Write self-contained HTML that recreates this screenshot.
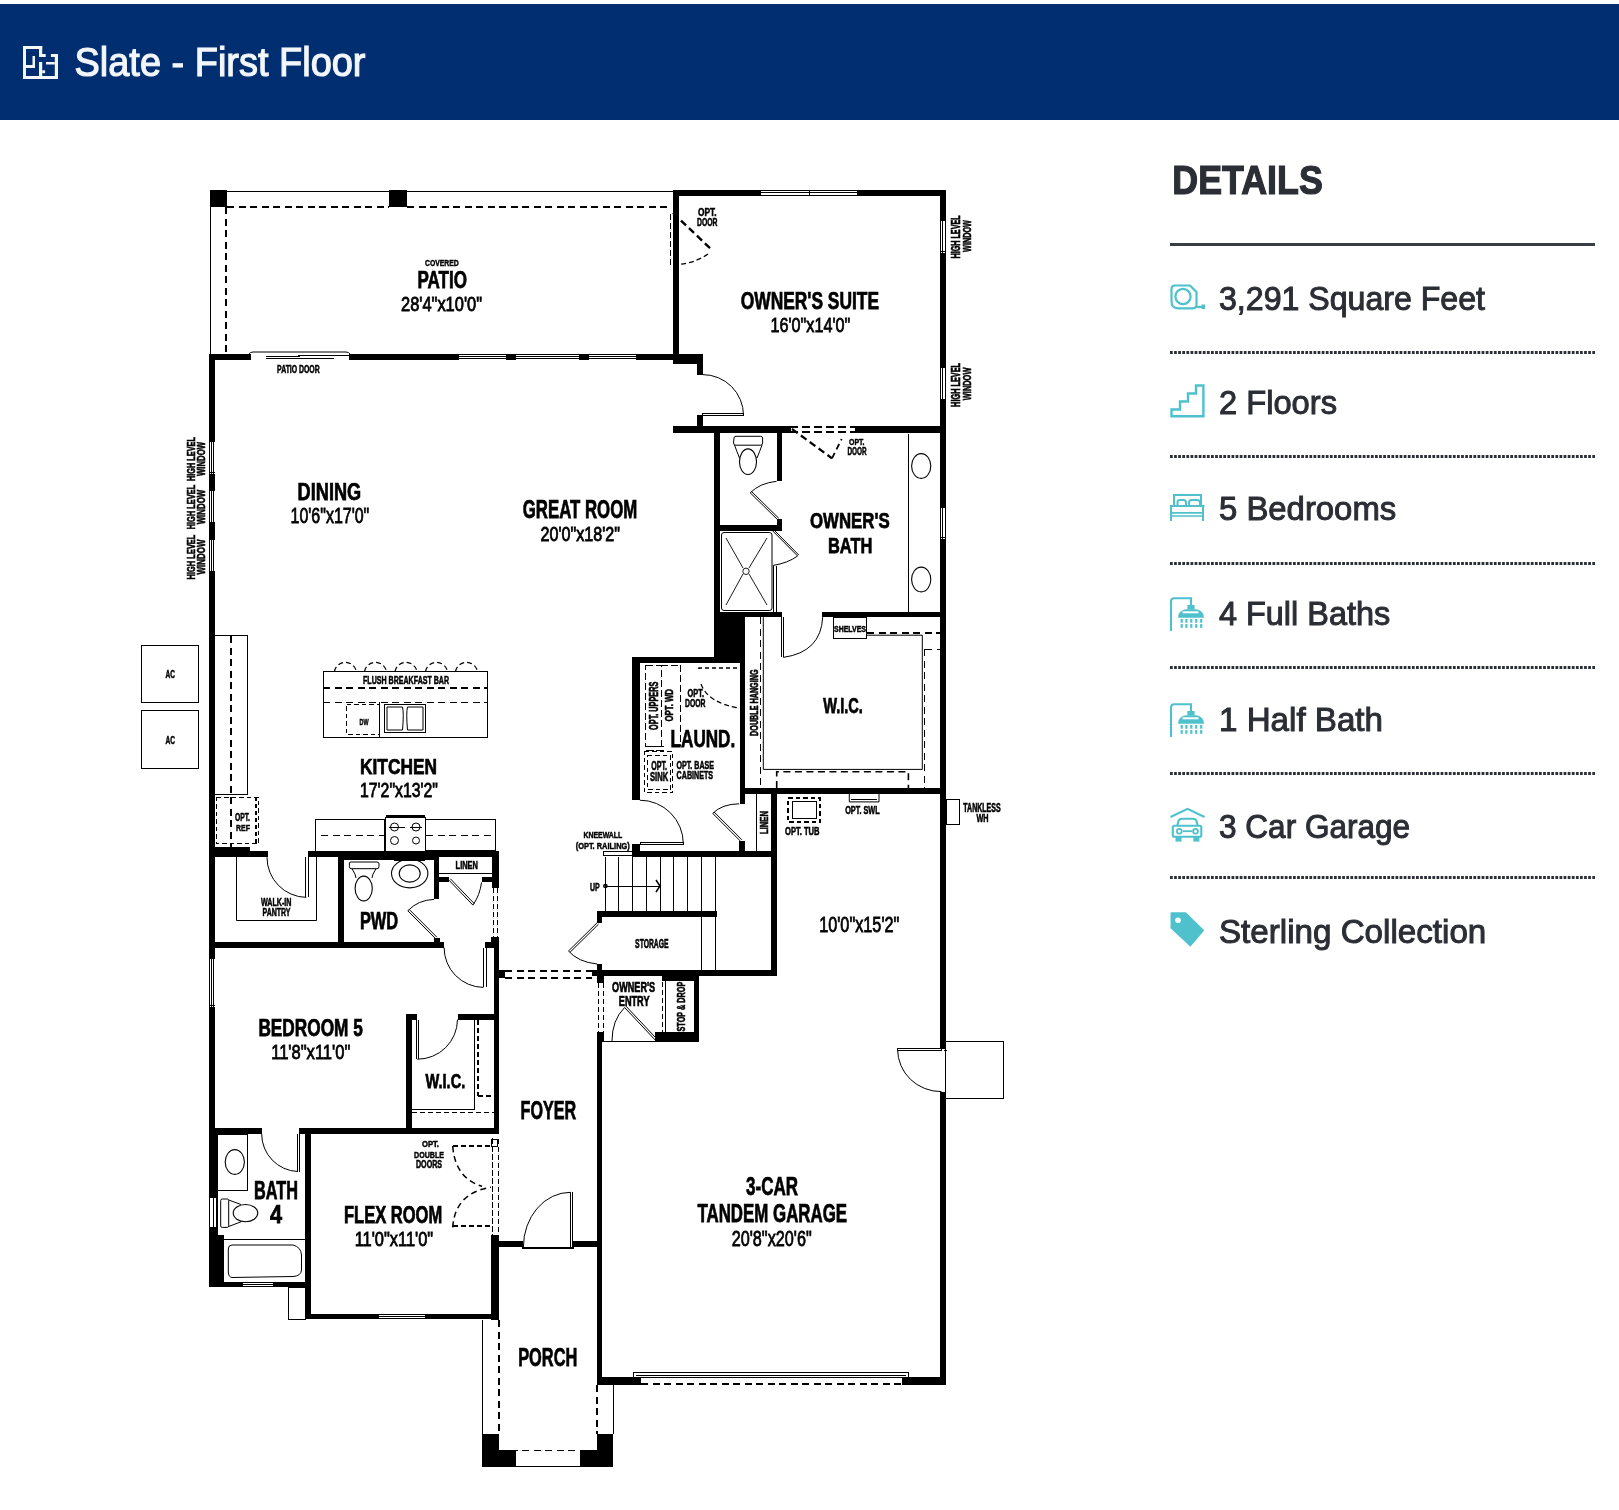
<!DOCTYPE html>
<html><head><meta charset="utf-8"><style>
html,body{margin:0;padding:0;background:#fff;}
body{width:1619px;height:1510px;position:relative;overflow:hidden;font-family:"Liberation Sans",sans-serif;}
.bar{position:absolute;left:0;top:4px;width:1619px;height:116px;background:#012e71;}
svg text{font-family:"Liberation Sans",sans-serif;fill:#000;}
.abs{position:absolute;left:0;top:0;will-change:transform;}
</style></head><body>
<div class="bar"></div>
<svg class="abs" width="1619" height="1510" viewBox="0 0 1619 1510">
<g fill="#f3f6fa"><rect x="23" y="46" width="3.0" height="33.0"/><rect x="23" y="46" width="19.2" height="3.0"/><rect x="39" y="46" width="3.2" height="11.0"/><rect x="39" y="54" width="6.7" height="3.0"/><rect x="50.9" y="54" width="7.1" height="3.0"/><rect x="54.8" y="54" width="3.2" height="25.0"/><rect x="23" y="76" width="35.0" height="3.0"/><rect x="26" y="65" width="9.0" height="3.0"/><rect x="32.5" y="56" width="2.5" height="12.0"/><rect x="39" y="62" width="3.2" height="17.0"/><rect x="46" y="62" width="8.8" height="2.5"/><rect x="42.2" y="70.3" width="2.9" height="2.9"/></g>
<text x="74.5" y="76" font-size="40.5" style="fill:#f3f6fa" stroke="#f3f6fa" stroke-width="1.2" textLength="291" lengthAdjust="spacingAndGlyphs">Slate - First Floor</text>
<text x="1172.3" y="194.2" font-size="41" font-weight="700" style="fill:#2b2e34" stroke="#2b2e34" stroke-width="1.2" textLength="150.5" lengthAdjust="spacingAndGlyphs">DETAILS</text>
<rect x="1170" y="243" width="425" height="3" fill="#3a3d44"/>
<text x="1219" y="309.5" font-size="33.3" style="fill:#2b2e34" stroke="#2b2e34" stroke-width="1.0" textLength="266" lengthAdjust="spacingAndGlyphs">3,291 Square Feet</text>
<text x="1219" y="413.8" font-size="33.3" style="fill:#2b2e34" stroke="#2b2e34" stroke-width="1.0" textLength="118" lengthAdjust="spacingAndGlyphs">2 Floors</text>
<text x="1219" y="520.3" font-size="33.3" style="fill:#2b2e34" stroke="#2b2e34" stroke-width="1.0" textLength="177.2" lengthAdjust="spacingAndGlyphs">5 Bedrooms</text>
<text x="1219" y="624.5" font-size="33.3" style="fill:#2b2e34" stroke="#2b2e34" stroke-width="1.0" textLength="171.2" lengthAdjust="spacingAndGlyphs">4 Full Baths</text>
<text x="1219" y="731" font-size="33.3" style="fill:#2b2e34" stroke="#2b2e34" stroke-width="1.0" textLength="164" lengthAdjust="spacingAndGlyphs">1 Half Bath</text>
<text x="1219" y="837.7" font-size="33.3" style="fill:#2b2e34" stroke="#2b2e34" stroke-width="1.0" textLength="191.1" lengthAdjust="spacingAndGlyphs">3 Car Garage</text>
<text x="1219" y="942.5" font-size="33.3" style="fill:#2b2e34" stroke="#2b2e34" stroke-width="1.0" textLength="267.3" lengthAdjust="spacingAndGlyphs">Sterling Collection</text>
<line x1="1170" y1="352.5" x2="1595" y2="352.5" stroke="#2c2f35" stroke-width="3" stroke-dasharray="2.75,1.35"/>
<line x1="1170" y1="456.5" x2="1595" y2="456.5" stroke="#2c2f35" stroke-width="3" stroke-dasharray="2.75,1.35"/>
<line x1="1170" y1="563.5" x2="1595" y2="563.5" stroke="#2c2f35" stroke-width="3" stroke-dasharray="2.75,1.35"/>
<line x1="1170" y1="667.5" x2="1595" y2="667.5" stroke="#2c2f35" stroke-width="3" stroke-dasharray="2.75,1.35"/>
<line x1="1170" y1="773.5" x2="1595" y2="773.5" stroke="#2c2f35" stroke-width="3" stroke-dasharray="2.75,1.35"/>
<line x1="1170" y1="877.5" x2="1595" y2="877.5" stroke="#2c2f35" stroke-width="3" stroke-dasharray="2.75,1.35"/>
<g fill="none" stroke="#4ec1cd" stroke-width="2.2">
<path d="M1175,285.5 L1190,285.5 L1196.5,292 L1196.5,304.5 Q1196.5,308.3 1192.7,308.3 L1178,308.3 Q1171.5,308.3 1171.5,301 L1171.5,289 Q1171.5,285.5 1175,285.5 Z"/>
<circle cx="1183" cy="296.5" r="7.6"/>
<path d="M1196.5,307 L1203,307"/>
</g><rect x="1201.5" y="304.5" width="3.5" height="4.5" fill="#4ec1cd"/>
<path d="M1171.5,416.2 L1171.5,409.5 L1180,409.5 L1180,401.5 L1188,401.5 L1188,393.5 L1196,393.5 L1196,385.5 L1203.4,385.5 L1203.4,416.2 Z" fill="none" stroke="#4ec1cd" stroke-width="2.4"/>
<g fill="none" stroke="#4ec1cd" stroke-width="2">
<path d="M1174,505.5 L1174,495 L1201,495 L1201,505.5"/>
<path d="M1177.5,505.5 L1177.5,502 Q1177.5,500 1180,500 L1183.5,500 Q1186,500 1186,502.5 L1186,505.5"/>
<path d="M1189,505.5 L1189,502.5 Q1189,500 1191.5,500 L1197,500 Q1200,500 1200,503 L1200,505.5"/>
<path d="M1170,506 L1204.5,506"/>
<path d="M1171,505 L1171,521 M1203,505 L1203,521"/>
<path d="M1171,512.8 L1203,512.8 M1171,516 L1203,516" stroke-width="1.7"/>
</g>
<g fill="#4ec1cd">
<path d="M1171,631.0 L1171,601.5 Q1171,598.2 1174.3,598.2 L1191,598.2 L1191,605.5" fill="none" stroke="#4ec1cd" stroke-width="2.1"/>
<rect x="1187.4" y="605.0" width="7.2" height="4.5"/>
<path d="M1178,617.7 L1178.6,614.5 Q1181,609.5 1186,609.3 L1196,609.3 Q1201,609.5 1203.4,614.5 L1204,617.7 Z"/>
<rect x="1182.5" y="611.3" width="16" height="2" fill="#fff"/>
<rect x="1180.6" y="619.0" width="2.2" height="3.7"/><rect x="1180.6" y="624.1" width="2.2" height="3.7"/><rect x="1185.3" y="619.0" width="2.2" height="3.7"/><rect x="1185.3" y="624.1" width="2.2" height="3.7"/><rect x="1190.2" y="619.0" width="2.2" height="3.7"/><rect x="1190.2" y="624.1" width="2.2" height="3.7"/><rect x="1195.1" y="619.0" width="2.2" height="3.7"/><rect x="1195.1" y="624.1" width="2.2" height="3.7"/><rect x="1200.1" y="619.0" width="2.2" height="3.7"/><rect x="1200.1" y="624.1" width="2.2" height="3.7"/>
</g>
<g fill="#4ec1cd">
<path d="M1171,737.0 L1171,707.5 Q1171,704.2 1174.3,704.2 L1191,704.2 L1191,711.5" fill="none" stroke="#4ec1cd" stroke-width="2.1"/>
<rect x="1187.4" y="711.0" width="7.2" height="4.5"/>
<path d="M1178,723.7 L1178.6,720.5 Q1181,715.5 1186,715.3 L1196,715.3 Q1201,715.5 1203.4,720.5 L1204,723.7 Z"/>
<rect x="1182.5" y="717.3" width="16" height="2" fill="#fff"/>
<rect x="1180.6" y="725.0" width="2.2" height="3.7"/><rect x="1180.6" y="730.1" width="2.2" height="3.7"/><rect x="1185.3" y="725.0" width="2.2" height="3.7"/><rect x="1185.3" y="730.1" width="2.2" height="3.7"/><rect x="1190.2" y="725.0" width="2.2" height="3.7"/><rect x="1190.2" y="730.1" width="2.2" height="3.7"/><rect x="1195.1" y="725.0" width="2.2" height="3.7"/><rect x="1195.1" y="730.1" width="2.2" height="3.7"/><rect x="1200.1" y="725.0" width="2.2" height="3.7"/><rect x="1200.1" y="730.1" width="2.2" height="3.7"/>
</g>
<g fill="none" stroke="#4ec1cd" stroke-width="2.1">
<path d="M1170.5,817 L1187.5,808.8 L1204.5,817"/>
<path d="M1177.3,826 L1178.5,821 Q1179.3,818.7 1182,818.7 L1193,818.7 Q1195.7,818.7 1196.5,821 L1197.8,826"/>
<rect x="1172.8" y="825.8" width="28.5" height="11" rx="1.5"/>
<circle cx="1179.3" cy="831.3" r="2.4" stroke-width="1.8"/><circle cx="1195.5" cy="831.3" r="2.4" stroke-width="1.8"/>
<path d="M1183,831.2 L1192,831.2" stroke-width="1.8"/>
</g><rect x="1175.5" y="836" width="6" height="5.6" fill="#4ec1cd"/><rect x="1193.4" y="836" width="6" height="5.6" fill="#4ec1cd"/>
<path d="M1171.3,913.1 L1185.6,913.1 L1203.2,930.4 L1190.4,945.6 L1171.3,928 Z" fill="#4ec1cd" stroke="#4ec1cd" stroke-width="1.5" stroke-linejoin="round"/><circle cx="1178" cy="920.2" r="2.8" fill="#fff"/>
<g id="plan">
<line x1="210" y1="191.5" x2="673" y2="191.5" stroke="#000" stroke-width="1" shape-rendering="crispEdges"/>
<line x1="210.5" y1="190" x2="210.5" y2="354" stroke="#000" stroke-width="1" shape-rendering="crispEdges"/>
<rect x="210" y="190" width="17" height="17" fill="#000" shape-rendering="crispEdges"/>
<rect x="389" y="190" width="18" height="17" fill="#000" shape-rendering="crispEdges"/>
<line x1="227" y1="207.0" x2="389" y2="207.0" stroke="#000" stroke-width="2" stroke-dasharray="7,4.5" shape-rendering="crispEdges"/>
<line x1="407" y1="207.0" x2="671" y2="207.0" stroke="#000" stroke-width="2" stroke-dasharray="7,4.5" shape-rendering="crispEdges"/>
<line x1="226.0" y1="207" x2="226.0" y2="354" stroke="#000" stroke-width="2" stroke-dasharray="7,4.5" shape-rendering="crispEdges"/>
<text x="425.0" y="266.0" font-size="9.16" font-weight="700" textLength="33.7" lengthAdjust="spacingAndGlyphs" stroke="#000" stroke-width="0.46">COVERED</text>
<text x="417.5" y="288.4" font-size="24.27" font-weight="700" textLength="49.5" lengthAdjust="spacingAndGlyphs" stroke="#000" stroke-width="0.75">PATIO</text>
<text x="401.0" y="310.6" font-size="20.20" font-weight="400" textLength="81.0" lengthAdjust="spacingAndGlyphs" stroke="#000" stroke-width="0.80">28'4"x10'0"</text>
<line x1="670.5" y1="214" x2="670.5" y2="265" stroke="#000" stroke-width="1" stroke-dasharray="6,3" shape-rendering="crispEdges"/>
<line x1="673.0" y1="213.0" x2="712.0" y2="250.0" stroke="#000" stroke-width="2.4" stroke-dasharray="7,4"/>
<path d="M708,254 Q695,263 678.6,264.5" fill="none" stroke="#000" stroke-width="1.3" stroke-dasharray="5,3"/>
<text x="698.0" y="216.0" font-size="10.61" font-weight="700" textLength="18.5" lengthAdjust="spacingAndGlyphs" stroke="#000" stroke-width="0.53">OPT.</text>
<text x="697.0" y="226.0" font-size="10.17" font-weight="700" textLength="20.5" lengthAdjust="spacingAndGlyphs" stroke="#000" stroke-width="0.51">DOOR</text>
<rect x="210" y="354" width="41" height="6" fill="#000" shape-rendering="crispEdges"/>
<rect x="251" y="354" width="98" height="6" fill="#fff" shape-rendering="crispEdges"/>
<path d="M249,359 L249,354 Q250,352 253,352 L346,352 Q349,352 350,354 L350,359" fill="none" stroke="#000" stroke-width="1"/>
<line x1="266" y1="358.5" x2="334" y2="358.5" stroke="#000" stroke-width="1" shape-rendering="crispEdges"/>
<line x1="266" y1="356.5" x2="300" y2="356.5" stroke="#000" stroke-width="1" shape-rendering="crispEdges"/>
<line x1="298" y1="355.5" x2="349" y2="355.5" stroke="#000" stroke-width="1" shape-rendering="crispEdges"/>
<rect x="349" y="354" width="110" height="6" fill="#000" shape-rendering="crispEdges"/>
<rect x="459" y="354" width="48" height="6" fill="#fff" shape-rendering="crispEdges"/>
<line x1="459" y1="354.5" x2="507" y2="354.5" stroke="#000" stroke-width="1" shape-rendering="crispEdges"/>
<line x1="459" y1="358.5" x2="507" y2="358.5" stroke="#000" stroke-width="1" shape-rendering="crispEdges"/>
<line x1="459" y1="356.5" x2="507" y2="356.5" stroke="#000" stroke-width="1" shape-rendering="crispEdges"/>
<line x1="458.5" y1="354" x2="458.5" y2="360" stroke="#000" stroke-width="1" shape-rendering="crispEdges"/>
<line x1="506.5" y1="354" x2="506.5" y2="360" stroke="#000" stroke-width="1" shape-rendering="crispEdges"/>
<rect x="507" y="354" width="9" height="6" fill="#000" shape-rendering="crispEdges"/>
<rect x="516" y="354" width="64" height="6" fill="#fff" shape-rendering="crispEdges"/>
<line x1="516" y1="354.5" x2="580" y2="354.5" stroke="#000" stroke-width="1" shape-rendering="crispEdges"/>
<line x1="516" y1="358.5" x2="580" y2="358.5" stroke="#000" stroke-width="1" shape-rendering="crispEdges"/>
<line x1="516" y1="356.5" x2="580" y2="356.5" stroke="#000" stroke-width="1" shape-rendering="crispEdges"/>
<line x1="515.5" y1="354" x2="515.5" y2="360" stroke="#000" stroke-width="1" shape-rendering="crispEdges"/>
<line x1="579.5" y1="354" x2="579.5" y2="360" stroke="#000" stroke-width="1" shape-rendering="crispEdges"/>
<rect x="580" y="354" width="9" height="6" fill="#000" shape-rendering="crispEdges"/>
<rect x="589" y="354" width="48" height="6" fill="#fff" shape-rendering="crispEdges"/>
<line x1="589" y1="354.5" x2="637" y2="354.5" stroke="#000" stroke-width="1" shape-rendering="crispEdges"/>
<line x1="589" y1="358.5" x2="637" y2="358.5" stroke="#000" stroke-width="1" shape-rendering="crispEdges"/>
<line x1="589" y1="356.5" x2="637" y2="356.5" stroke="#000" stroke-width="1" shape-rendering="crispEdges"/>
<line x1="588.5" y1="354" x2="588.5" y2="360" stroke="#000" stroke-width="1" shape-rendering="crispEdges"/>
<line x1="636.5" y1="354" x2="636.5" y2="360" stroke="#000" stroke-width="1" shape-rendering="crispEdges"/>
<rect x="637" y="354" width="36" height="6" fill="#000" shape-rendering="crispEdges"/>
<rect x="673" y="354" width="30" height="10" fill="#000" shape-rendering="crispEdges"/>
<rect x="697" y="354" width="6" height="21" fill="#000" shape-rendering="crispEdges"/>
<text x="277.1" y="372.7" font-size="10.76" font-weight="700" textLength="42.6" lengthAdjust="spacingAndGlyphs" stroke="#000" stroke-width="0.54">PATIO DOOR</text>
<rect x="697" y="415" width="6" height="17" fill="#000" shape-rendering="crispEdges"/>
<path d="M702.7,374.6 A40.8,40.8 0 0 1 743.5,415.3" fill="none" stroke="#000" stroke-width="1"/>
<rect x="702.5" y="413.5" width="41.0" height="2.0" fill="none" stroke="#000" stroke-width="1" shape-rendering="crispEdges"/>
<rect x="673" y="190" width="273" height="6" fill="#000" shape-rendering="crispEdges"/>
<rect x="761" y="190" width="97" height="6" fill="#fff" shape-rendering="crispEdges"/>
<line x1="761" y1="190.5" x2="858" y2="190.5" stroke="#000" stroke-width="1" shape-rendering="crispEdges"/>
<line x1="761" y1="195.5" x2="858" y2="195.5" stroke="#000" stroke-width="1" shape-rendering="crispEdges"/>
<line x1="761" y1="192.5" x2="858" y2="192.5" stroke="#000" stroke-width="1" shape-rendering="crispEdges"/>
<line x1="760.5" y1="190" x2="760.5" y2="196" stroke="#000" stroke-width="1" shape-rendering="crispEdges"/>
<line x1="857.5" y1="190" x2="857.5" y2="196" stroke="#000" stroke-width="1" shape-rendering="crispEdges"/>
<line x1="809.5" y1="190" x2="809.5" y2="196" stroke="#000" stroke-width="1" shape-rendering="crispEdges"/>
<rect x="673" y="190" width="6" height="164" fill="#000" shape-rendering="crispEdges"/>
<rect x="940" y="190" width="6" height="1195" fill="#000" shape-rendering="crispEdges"/>
<rect x="940" y="221" width="6" height="32" fill="#fff" shape-rendering="crispEdges"/>
<line x1="940.5" y1="221" x2="940.5" y2="253" stroke="#000" stroke-width="1" shape-rendering="crispEdges"/>
<line x1="945.5" y1="221" x2="945.5" y2="253" stroke="#000" stroke-width="1" shape-rendering="crispEdges"/>
<line x1="942.5" y1="221" x2="942.5" y2="253" stroke="#000" stroke-width="1" shape-rendering="crispEdges"/>
<line x1="940" y1="220.5" x2="946" y2="220.5" stroke="#000" stroke-width="1" shape-rendering="crispEdges"/>
<line x1="940" y1="251.5" x2="946" y2="251.5" stroke="#000" stroke-width="1" shape-rendering="crispEdges"/>
<rect x="940" y="368" width="6" height="32" fill="#fff" shape-rendering="crispEdges"/>
<line x1="940.5" y1="368" x2="940.5" y2="400" stroke="#000" stroke-width="1" shape-rendering="crispEdges"/>
<line x1="945.5" y1="368" x2="945.5" y2="400" stroke="#000" stroke-width="1" shape-rendering="crispEdges"/>
<line x1="942.5" y1="368" x2="942.5" y2="400" stroke="#000" stroke-width="1" shape-rendering="crispEdges"/>
<line x1="940" y1="367.5" x2="946" y2="367.5" stroke="#000" stroke-width="1" shape-rendering="crispEdges"/>
<line x1="940" y1="399.5" x2="946" y2="399.5" stroke="#000" stroke-width="1" shape-rendering="crispEdges"/>
<text transform="translate(960.4,258.5) rotate(-90)" x="0" y="0" font-size="12.50" font-weight="700" textLength="43.1" lengthAdjust="spacingAndGlyphs" stroke="#000" stroke-width="0.63">HIGH LEVEL</text>
<text transform="translate(971.0,252.0) rotate(-90)" x="0" y="0" font-size="11.19" font-weight="700" textLength="32.0" lengthAdjust="spacingAndGlyphs" stroke="#000" stroke-width="0.56">WINDOW</text>
<text transform="translate(960.4,406.9) rotate(-90)" x="0" y="0" font-size="12.50" font-weight="700" textLength="44.0" lengthAdjust="spacingAndGlyphs" stroke="#000" stroke-width="0.63">HIGH LEVEL</text>
<text transform="translate(971.0,400.2) rotate(-90)" x="0" y="0" font-size="11.19" font-weight="700" textLength="32.6" lengthAdjust="spacingAndGlyphs" stroke="#000" stroke-width="0.56">WINDOW</text>
<text x="740.8" y="308.7" font-size="24.27" font-weight="700" textLength="138.2" lengthAdjust="spacingAndGlyphs" stroke="#000" stroke-width="0.75">OWNER'S SUITE</text>
<text x="770.5" y="332.2" font-size="20.78" font-weight="400" textLength="79.8" lengthAdjust="spacingAndGlyphs" stroke="#000" stroke-width="0.80">16'0"x14'0"</text>
<rect x="673" y="426" width="117" height="7" fill="#000" shape-rendering="crispEdges"/>
<rect x="855" y="426" width="91" height="7" fill="#000" shape-rendering="crispEdges"/>
<line x1="790" y1="427.0" x2="855" y2="427.0" stroke="#000" stroke-width="2" stroke-dasharray="8,4" shape-rendering="crispEdges"/>
<line x1="790" y1="432.0" x2="855" y2="432.0" stroke="#000" stroke-width="2" stroke-dasharray="8,4" shape-rendering="crispEdges"/>
<line x1="790.5" y1="426" x2="790.5" y2="433" stroke="#000" stroke-width="1" shape-rendering="crispEdges"/>
<line x1="855.5" y1="426" x2="855.5" y2="433" stroke="#000" stroke-width="1" shape-rendering="crispEdges"/>
<line x1="792.0" y1="429.0" x2="832.0" y2="458.3" stroke="#000" stroke-width="2.2" stroke-dasharray="7,4"/>
<line x1="832.0" y1="458.3" x2="841.7" y2="439.0" stroke="#000" stroke-width="1.8" stroke-dasharray="6,4"/>
<text x="849.0" y="444.9" font-size="9.74" font-weight="700" textLength="15.5" lengthAdjust="spacingAndGlyphs" stroke="#000" stroke-width="0.49">OPT.</text>
<text x="847.4" y="454.8" font-size="10.17" font-weight="700" textLength="19.2" lengthAdjust="spacingAndGlyphs" stroke="#000" stroke-width="0.51">DOOR</text>
<rect x="714" y="426" width="6" height="237" fill="#000" shape-rendering="crispEdges"/>
<rect x="209" y="354" width="6" height="780" fill="#000" shape-rendering="crispEdges"/>
<rect x="209" y="442" width="6" height="32" fill="#fff" shape-rendering="crispEdges"/>
<line x1="209.5" y1="442" x2="209.5" y2="474" stroke="#000" stroke-width="1" shape-rendering="crispEdges"/>
<line x1="213.5" y1="442" x2="213.5" y2="474" stroke="#000" stroke-width="1" shape-rendering="crispEdges"/>
<line x1="211.5" y1="442" x2="211.5" y2="474" stroke="#000" stroke-width="1" shape-rendering="crispEdges"/>
<line x1="209" y1="441.5" x2="215" y2="441.5" stroke="#000" stroke-width="1" shape-rendering="crispEdges"/>
<line x1="209" y1="472.5" x2="215" y2="472.5" stroke="#000" stroke-width="1" shape-rendering="crispEdges"/>
<rect x="209" y="491" width="6" height="32" fill="#fff" shape-rendering="crispEdges"/>
<line x1="209.5" y1="491" x2="209.5" y2="523" stroke="#000" stroke-width="1" shape-rendering="crispEdges"/>
<line x1="213.5" y1="491" x2="213.5" y2="523" stroke="#000" stroke-width="1" shape-rendering="crispEdges"/>
<line x1="211.5" y1="491" x2="211.5" y2="523" stroke="#000" stroke-width="1" shape-rendering="crispEdges"/>
<line x1="209" y1="490.5" x2="215" y2="490.5" stroke="#000" stroke-width="1" shape-rendering="crispEdges"/>
<line x1="209" y1="522.5" x2="215" y2="522.5" stroke="#000" stroke-width="1" shape-rendering="crispEdges"/>
<rect x="209" y="540" width="6" height="32" fill="#fff" shape-rendering="crispEdges"/>
<line x1="209.5" y1="540" x2="209.5" y2="572" stroke="#000" stroke-width="1" shape-rendering="crispEdges"/>
<line x1="213.5" y1="540" x2="213.5" y2="572" stroke="#000" stroke-width="1" shape-rendering="crispEdges"/>
<line x1="211.5" y1="540" x2="211.5" y2="572" stroke="#000" stroke-width="1" shape-rendering="crispEdges"/>
<line x1="209" y1="539.5" x2="215" y2="539.5" stroke="#000" stroke-width="1" shape-rendering="crispEdges"/>
<line x1="209" y1="571.5" x2="215" y2="571.5" stroke="#000" stroke-width="1" shape-rendering="crispEdges"/>
<text transform="translate(194.6,481.0) rotate(-90)" x="0" y="0" font-size="11.05" font-weight="700" textLength="44.0" lengthAdjust="spacingAndGlyphs" stroke="#000" stroke-width="0.55">HIGH LEVEL</text>
<text transform="translate(205.4,476.0) rotate(-90)" x="0" y="0" font-size="11.77" font-weight="700" textLength="34.0" lengthAdjust="spacingAndGlyphs" stroke="#000" stroke-width="0.59">WINDOW</text>
<text transform="translate(194.6,529.3) rotate(-90)" x="0" y="0" font-size="11.05" font-weight="700" textLength="44.5" lengthAdjust="spacingAndGlyphs" stroke="#000" stroke-width="0.55">HIGH LEVEL</text>
<text transform="translate(205.4,524.3) rotate(-90)" x="0" y="0" font-size="11.77" font-weight="700" textLength="34.5" lengthAdjust="spacingAndGlyphs" stroke="#000" stroke-width="0.59">WINDOW</text>
<text transform="translate(194.6,579.4) rotate(-90)" x="0" y="0" font-size="11.05" font-weight="700" textLength="44.8" lengthAdjust="spacingAndGlyphs" stroke="#000" stroke-width="0.55">HIGH LEVEL</text>
<text transform="translate(205.4,574.4) rotate(-90)" x="0" y="0" font-size="11.77" font-weight="700" textLength="34.8" lengthAdjust="spacingAndGlyphs" stroke="#000" stroke-width="0.59">WINDOW</text>
<text x="297.6" y="499.7" font-size="24.71" font-weight="700" textLength="63.6" lengthAdjust="spacingAndGlyphs" stroke="#000" stroke-width="0.75">DINING</text>
<text x="290.5" y="523.0" font-size="22.09" font-weight="400" textLength="78.8" lengthAdjust="spacingAndGlyphs" stroke="#000" stroke-width="0.80">10'6"x17'0"</text>
<text x="522.8" y="517.8" font-size="25.00" font-weight="700" textLength="114.4" lengthAdjust="spacingAndGlyphs" stroke="#000" stroke-width="0.75">GREAT ROOM</text>
<text x="540.4" y="540.8" font-size="19.91" font-weight="400" textLength="79.7" lengthAdjust="spacingAndGlyphs" stroke="#000" stroke-width="0.80">20'0"x18'2"</text>
<rect x="777" y="433" width="5" height="48" fill="#000" shape-rendering="crispEdges"/>
<path d="M776.6,481.3 Q760,483 750.2,492.8" fill="none" stroke="#000" stroke-width="1"/>
<line x1="750.2" y1="492.8" x2="777.5" y2="519.6" stroke="#000" stroke-width="1"/>
<line x1="751.5" y1="491.5" x2="778.8" y2="518.3" stroke="#000" stroke-width="1"/>
<rect x="777" y="519" width="5" height="12" fill="#000" shape-rendering="crispEdges"/>
<rect x="720" y="525" width="62" height="6" fill="#000" shape-rendering="crispEdges"/>
<path d="M734,438 Q734,436.3 736,436.3 L760.5,436.3 Q762.6,436.3 762.6,438 L762.6,443 Q762.6,445.2 760.5,445.2 L736,445.2 Q733.5,445.2 733.5,443 Z" fill="none" stroke="#000" stroke-width="1"/>
<path d="M734.5,445 Q737,452 739.5,458 M762,445 Q759.5,452 757,458" fill="none" stroke="#000" stroke-width="1"/>
<ellipse cx="748.0" cy="461.7" rx="8.5" ry="12.8" fill="none" stroke="#000" stroke-width="1.1"/>
<rect x="721.5" y="532.5" width="50.5" height="78.0" fill="none" stroke="#000" stroke-width="1" rx="2.5"/>
<line x1="726.0" y1="538.0" x2="743.0" y2="568.0" stroke="#000" stroke-width="0.9"/>
<line x1="767.0" y1="538.0" x2="749.0" y2="568.0" stroke="#000" stroke-width="0.9"/>
<line x1="726.0" y1="605.0" x2="743.0" y2="574.0" stroke="#000" stroke-width="0.9"/>
<line x1="767.0" y1="605.0" x2="749.0" y2="574.0" stroke="#000" stroke-width="0.9"/>
<ellipse cx="746.0" cy="571.3" rx="3.2" ry="3.2" fill="none" stroke="#000" stroke-width="0.9"/>
<line x1="772.8" y1="531.0" x2="797.6" y2="556.0" stroke="#000" stroke-width="1"/>
<line x1="774.0" y1="530.0" x2="798.8" y2="555.0" stroke="#000" stroke-width="1"/>
<path d="M797.6,556 Q788,563 772.8,565.5" fill="none" stroke="#000" stroke-width="1"/>
<line x1="773.5" y1="566" x2="773.5" y2="612" stroke="#000" stroke-width="1" shape-rendering="crispEdges"/>
<line x1="776.5" y1="566" x2="776.5" y2="612" stroke="#000" stroke-width="1" shape-rendering="crispEdges"/>
<rect x="714" y="612" width="68" height="5" fill="#000" shape-rendering="crispEdges"/>
<rect x="714" y="612" width="31" height="50" fill="#000" shape-rendering="crispEdges"/>
<rect x="822" y="612" width="124" height="5" fill="#000" shape-rendering="crispEdges"/>
<line x1="908.5" y1="434" x2="908.5" y2="612" stroke="#000" stroke-width="1" shape-rendering="crispEdges"/>
<ellipse cx="921.2" cy="466.0" rx="9.6" ry="12.4" fill="none" stroke="#000" stroke-width="1.1"/>
<ellipse cx="921.2" cy="579.5" rx="9.6" ry="12.4" fill="none" stroke="#000" stroke-width="1.1"/>
<rect x="940" y="507" width="6" height="32" fill="#fff" shape-rendering="crispEdges"/>
<line x1="940.5" y1="507" x2="940.5" y2="539" stroke="#000" stroke-width="1" shape-rendering="crispEdges"/>
<line x1="945.5" y1="507" x2="945.5" y2="539" stroke="#000" stroke-width="1" shape-rendering="crispEdges"/>
<line x1="942.5" y1="507" x2="942.5" y2="539" stroke="#000" stroke-width="1" shape-rendering="crispEdges"/>
<line x1="940" y1="507.5" x2="946" y2="507.5" stroke="#000" stroke-width="1" shape-rendering="crispEdges"/>
<line x1="940" y1="537.5" x2="946" y2="537.5" stroke="#000" stroke-width="1" shape-rendering="crispEdges"/>
<text x="810.0" y="528.2" font-size="22.24" font-weight="700" textLength="79.6" lengthAdjust="spacingAndGlyphs" stroke="#000" stroke-width="0.75">OWNER'S</text>
<text x="827.9" y="552.5" font-size="22.82" font-weight="700" textLength="44.4" lengthAdjust="spacingAndGlyphs" stroke="#000" stroke-width="0.75">BATH</text>
<line x1="781.5" y1="617" x2="781.5" y2="657" stroke="#000" stroke-width="1" shape-rendering="crispEdges"/>
<line x1="783.5" y1="617" x2="783.5" y2="657" stroke="#000" stroke-width="1" shape-rendering="crispEdges"/>
<path d="M822.7,617.2 Q821,652 783.3,657.4" fill="none" stroke="#000" stroke-width="1"/>
<rect x="740" y="788" width="206" height="6" fill="#000" shape-rendering="crispEdges"/>
<rect x="740" y="657" width="5" height="147" fill="#000" shape-rendering="crispEdges"/>
<rect x="833.5" y="617.5" width="33.0" height="21.0" fill="none" stroke="#000" stroke-width="1" shape-rendering="crispEdges"/>
<text x="834.0" y="631.6" font-size="9.59" font-weight="700" textLength="32.0" lengthAdjust="spacingAndGlyphs" stroke="#000" stroke-width="0.48">SHELVES</text>
<line x1="867" y1="633.0" x2="941" y2="633.0" stroke="#000" stroke-width="2" stroke-dasharray="7,4.5" shape-rendering="crispEdges"/>
<path d="M866.7,635.2 L922.3,635.2 L922.3,769.4 L763.3,769.4 L763.3,617.2" fill="none" stroke="#000" stroke-width="1"/>
<line x1="760.5" y1="617" x2="760.5" y2="788" stroke="#000" stroke-width="1" stroke-dasharray="7,4.5" shape-rendering="crispEdges"/>
<line x1="924.5" y1="649" x2="924.5" y2="788" stroke="#000" stroke-width="1" stroke-dasharray="7,4.5" shape-rendering="crispEdges"/>
<line x1="925" y1="649.5" x2="941" y2="649.5" stroke="#000" stroke-width="1" stroke-dasharray="7,4.5" shape-rendering="crispEdges"/>
<path d="M776.7,788 L776.7,771.7 L908.4,771.7 L908.4,788" fill="none" stroke="#000" stroke-width="1.6" stroke-dasharray="7,4.5"/>
<text x="823.2" y="712.7" font-size="21.37" font-weight="700" textLength="39.7" lengthAdjust="spacingAndGlyphs" stroke="#000" stroke-width="0.75">W.I.C.</text>
<text transform="translate(758.2,735.9) rotate(-90)" x="0" y="0" font-size="11.19" font-weight="700" textLength="66.4" lengthAdjust="spacingAndGlyphs" stroke="#000" stroke-width="0.56">DOUBLE HANGING</text>
<rect x="632" y="657" width="113" height="6" fill="#000" shape-rendering="crispEdges"/>
<rect x="632" y="657" width="8" height="143" fill="#000" shape-rendering="crispEdges"/>
<path d="M639.8,800.2 A43.5,43.5 0 0 1 683.3,843.6" fill="none" stroke="#000" stroke-width="1"/>
<rect x="640.5" y="842.5" width="43.0" height="2.0" fill="none" stroke="#000" stroke-width="1" shape-rendering="crispEdges"/>
<rect x="632" y="844" width="8" height="8" fill="#000" shape-rendering="crispEdges"/>
<rect x="739" y="841" width="6" height="11" fill="#000" shape-rendering="crispEdges"/>
<path d="M739.2,803.8 Q722,804 712.7,813.4" fill="none" stroke="#000" stroke-width="1"/>
<line x1="712.7" y1="813.4" x2="740.5" y2="841.2" stroke="#000" stroke-width="1"/>
<line x1="714.1" y1="812.0" x2="741.9" y2="839.8" stroke="#000" stroke-width="1"/>
<line x1="756.5" y1="794" x2="756.5" y2="851" stroke="#000" stroke-width="1" shape-rendering="crispEdges"/>
<rect x="771" y="788" width="6" height="188" fill="#000" shape-rendering="crispEdges"/>
<text transform="translate(768.0,834.0) rotate(-90)" x="0" y="0" font-size="10.17" font-weight="700" textLength="23.0" lengthAdjust="spacingAndGlyphs" stroke="#000" stroke-width="0.51">LINEN</text>
<rect x="645.5" y="665.5" width="16.0" height="81.0" fill="none" stroke="#000" stroke-width="1" stroke-dasharray="7,3" shape-rendering="crispEdges"/>
<line x1="680.5" y1="665" x2="680.5" y2="746" stroke="#000" stroke-width="1" stroke-dasharray="7,3" shape-rendering="crispEdges"/>
<line x1="661" y1="665.5" x2="681" y2="665.5" stroke="#000" stroke-width="1" stroke-dasharray="7,3" shape-rendering="crispEdges"/>
<line x1="646" y1="746.5" x2="654" y2="746.5" stroke="#000" stroke-width="1" shape-rendering="crispEdges"/>
<line x1="646" y1="750.5" x2="654" y2="750.5" stroke="#000" stroke-width="1" shape-rendering="crispEdges"/>
<line x1="656" y1="746.5" x2="664" y2="746.5" stroke="#000" stroke-width="1" shape-rendering="crispEdges"/>
<line x1="656" y1="750.5" x2="664" y2="750.5" stroke="#000" stroke-width="1" shape-rendering="crispEdges"/>
<rect x="644.5" y="751.5" width="28.0" height="41.0" fill="none" stroke="#000" stroke-width="1" stroke-dasharray="4.5,3" shape-rendering="crispEdges"/>
<rect x="647.5" y="755.5" width="23.0" height="34.0" fill="none" stroke="#000" stroke-width="1" stroke-dasharray="4.5,3" shape-rendering="crispEdges"/>
<text transform="translate(657.6,729.9) rotate(-90)" x="0" y="0" font-size="12.21" font-weight="700" textLength="48.2" lengthAdjust="spacingAndGlyphs" stroke="#000" stroke-width="0.61">OPT. UPPERS</text>
<text transform="translate(673.3,721.5) rotate(-90)" x="0" y="0" font-size="10.61" font-weight="700" textLength="32.5" lengthAdjust="spacingAndGlyphs" stroke="#000" stroke-width="0.53">OPT. WD</text>
<path d="M699,669 L699,668 L739,668" fill="none" stroke="#000" stroke-width="1.6" stroke-dasharray="4,3"/>
<path d="M701,684 Q708,703 739,708" fill="none" stroke="#000" stroke-width="1.2" stroke-dasharray="5,3"/>
<text x="687.5" y="696.6" font-size="10.47" font-weight="700" textLength="16.5" lengthAdjust="spacingAndGlyphs" stroke="#000" stroke-width="0.52">OPT.</text>
<text x="685.0" y="707.0" font-size="11.63" font-weight="700" textLength="20.5" lengthAdjust="spacingAndGlyphs" stroke="#000" stroke-width="0.58">DOOR</text>
<text x="670.6" y="747.2" font-size="24.56" font-weight="700" textLength="64.6" lengthAdjust="spacingAndGlyphs" stroke="#000" stroke-width="0.75">LAUND.</text>
<text x="651.3" y="769.7" font-size="12.06" font-weight="700" textLength="15.7" lengthAdjust="spacingAndGlyphs" stroke="#000" stroke-width="0.60">OPT.</text>
<text x="650.0" y="780.8" font-size="12.06" font-weight="700" textLength="18.2" lengthAdjust="spacingAndGlyphs" stroke="#000" stroke-width="0.60">SINK</text>
<text x="676.6" y="768.9" font-size="10.47" font-weight="700" textLength="37.4" lengthAdjust="spacingAndGlyphs" stroke="#000" stroke-width="0.52">OPT. BASE</text>
<text x="676.6" y="779.2" font-size="11.48" font-weight="700" textLength="36.4" lengthAdjust="spacingAndGlyphs" stroke="#000" stroke-width="0.57">CABINETS</text>
<rect x="141.5" y="645.5" width="57.0" height="57.0" fill="none" stroke="#000" stroke-width="1" shape-rendering="crispEdges"/>
<rect x="141.5" y="710.5" width="57.0" height="58.0" fill="none" stroke="#000" stroke-width="1" shape-rendering="crispEdges"/>
<text x="165.5" y="677.5" font-size="10.17" font-weight="700" textLength="9.5" lengthAdjust="spacingAndGlyphs" stroke="#000" stroke-width="0.51">AC</text>
<text x="165.5" y="744.0" font-size="10.17" font-weight="700" textLength="9.5" lengthAdjust="spacingAndGlyphs" stroke="#000" stroke-width="0.51">AC</text>
<rect x="214.5" y="635.5" width="33.0" height="159.0" fill="none" stroke="#000" stroke-width="1" shape-rendering="crispEdges"/>
<line x1="231.0" y1="636" x2="231.0" y2="847" stroke="#000" stroke-width="2" stroke-dasharray="7,4.5" shape-rendering="crispEdges"/>
<rect x="216.5" y="797.5" width="42.0" height="46.0" fill="none" stroke="#000" stroke-width="1" stroke-dasharray="4.5,3" shape-rendering="crispEdges"/>
<line x1="256.0" y1="797" x2="256.0" y2="844" stroke="#000" stroke-width="2" stroke-dasharray="4,3" shape-rendering="crispEdges"/>
<text x="235.0" y="820.6" font-size="10.47" font-weight="700" textLength="15.0" lengthAdjust="spacingAndGlyphs" stroke="#000" stroke-width="0.52">OPT.</text>
<text x="236.0" y="831.0" font-size="9.88" font-weight="700" textLength="14.0" lengthAdjust="spacingAndGlyphs" stroke="#000" stroke-width="0.49">REF</text>
<rect x="209" y="847" width="41" height="10" fill="#000" shape-rendering="crispEdges"/>
<rect x="250" y="851" width="18" height="6" fill="#000" shape-rendering="crispEdges"/>
<rect x="308" y="851" width="191" height="6" fill="#000" shape-rendering="crispEdges"/>
<rect x="323.5" y="671.5" width="164.0" height="66.0" fill="none" stroke="#000" stroke-width="1" shape-rendering="crispEdges"/>
<line x1="323" y1="688.0" x2="488" y2="688.0" stroke="#000" stroke-width="2" stroke-dasharray="7,4.5" shape-rendering="crispEdges"/>
<line x1="323" y1="702.5" x2="488" y2="702.5" stroke="#000" stroke-width="1" stroke-dasharray="7,4.5" shape-rendering="crispEdges"/>
<rect x="346.5" y="704.5" width="33.0" height="30.0" fill="none" stroke="#000" stroke-width="1" stroke-dasharray="4.5,3" shape-rendering="crispEdges"/>
<line x1="379.5" y1="702" x2="379.5" y2="737" stroke="#000" stroke-width="1" shape-rendering="crispEdges"/>
<rect x="384.5" y="704.5" width="41.0" height="28.0" fill="none" stroke="#000" stroke-width="1" shape-rendering="crispEdges"/>
<path d="M387,707 L402.5,707 Q404,713 402.5,730 L387,730 Z" fill="none" stroke="#000" stroke-width="1"/>
<path d="M407.5,707 L423,707 L423,730 L407.5,730 Q406,713 407.5,707 Z" fill="none" stroke="#000" stroke-width="1"/>
<text x="363.0" y="683.6" font-size="10.47" font-weight="700" textLength="86.1" lengthAdjust="spacingAndGlyphs" stroke="#000" stroke-width="0.52">FLUSH BREAKFAST BAR</text>
<text x="359.5" y="725.3" font-size="9.59" font-weight="700" textLength="9.0" lengthAdjust="spacingAndGlyphs" stroke="#000" stroke-width="0.48">DW</text>
<path d="M334.4,671.5 A11.2,11.2 0 0 1 356.4,671.5" fill="none" stroke="#000" stroke-width="1.2" stroke-dasharray="5,3"/>
<path d="M364.5,671.5 A11.2,11.2 0 0 1 386.5,671.5" fill="none" stroke="#000" stroke-width="1.2" stroke-dasharray="5,3"/>
<path d="M395,671.5 A11.2,11.2 0 0 1 417,671.5" fill="none" stroke="#000" stroke-width="1.2" stroke-dasharray="5,3"/>
<path d="M425.5,671.5 A11.2,11.2 0 0 1 447.5,671.5" fill="none" stroke="#000" stroke-width="1.2" stroke-dasharray="5,3"/>
<path d="M455.5,671.5 A11.2,11.2 0 0 1 477.5,671.5" fill="none" stroke="#000" stroke-width="1.2" stroke-dasharray="5,3"/>
<text x="360.0" y="773.7" font-size="22.97" font-weight="700" textLength="77.0" lengthAdjust="spacingAndGlyphs" stroke="#000" stroke-width="0.75">KITCHEN</text>
<text x="360.0" y="797.0" font-size="20.35" font-weight="400" textLength="78.0" lengthAdjust="spacingAndGlyphs" stroke="#000" stroke-width="0.80">17'2"x13'2"</text>
<rect x="315.5" y="819.5" width="69.0" height="32.0" fill="none" stroke="#000" stroke-width="1" shape-rendering="crispEdges"/>
<line x1="321" y1="835.5" x2="384" y2="835.5" stroke="#000" stroke-width="1" stroke-dasharray="7,4.5" shape-rendering="crispEdges"/>
<rect x="385.5" y="817.5" width="40.0" height="34.0" fill="none" stroke="#000" stroke-width="1" shape-rendering="crispEdges"/>
<line x1="386" y1="816.0" x2="425" y2="816.0" stroke="#000" stroke-width="2" shape-rendering="crispEdges"/>
<ellipse cx="394.5" cy="827.0" rx="4.0" ry="4.0" fill="none" stroke="#000" stroke-width="1"/>
<ellipse cx="416.0" cy="827.0" rx="4.0" ry="4.0" fill="none" stroke="#000" stroke-width="1"/>
<ellipse cx="394.5" cy="840.5" rx="4.0" ry="4.0" fill="none" stroke="#000" stroke-width="1"/>
<ellipse cx="416.0" cy="840.5" rx="3.5" ry="3.5" fill="none" stroke="#000" stroke-width="1"/>
<line x1="389" y1="827.5" x2="405" y2="827.5" stroke="#000" stroke-width="1" shape-rendering="crispEdges"/>
<line x1="410" y1="827.5" x2="422" y2="827.5" stroke="#000" stroke-width="1" shape-rendering="crispEdges"/>
<rect x="425.5" y="819.5" width="70.0" height="31.0" fill="none" stroke="#000" stroke-width="1" shape-rendering="crispEdges"/>
<line x1="426" y1="835.5" x2="495" y2="835.5" stroke="#000" stroke-width="1" stroke-dasharray="7,4.5" shape-rendering="crispEdges"/>
<path d="M267,857.2 A40,40 0 0 0 306.3,897.4" fill="none" stroke="#000" stroke-width="1"/>
<line x1="305.5" y1="857" x2="305.5" y2="897" stroke="#000" stroke-width="1" shape-rendering="crispEdges"/>
<line x1="308.5" y1="857" x2="308.5" y2="897" stroke="#000" stroke-width="1" shape-rendering="crispEdges"/>
<path d="M236.5,857 L236.5,920.5 L316.5,920.5 L316.5,857" fill="none" stroke="#000" stroke-width="1"/>
<text x="260.9" y="906.0" font-size="11.05" font-weight="700" textLength="30.6" lengthAdjust="spacingAndGlyphs" stroke="#000" stroke-width="0.55">WALK-IN</text>
<text x="262.5" y="915.6" font-size="11.05" font-weight="700" textLength="28.0" lengthAdjust="spacingAndGlyphs" stroke="#000" stroke-width="0.55">PANTRY</text>
<rect x="338" y="857" width="6" height="91" fill="#000" shape-rendering="crispEdges"/>
<rect x="338" y="851" width="101" height="9" fill="#000" shape-rendering="crispEdges"/>
<rect x="209" y="942" width="235" height="6" fill="#000" shape-rendering="crispEdges"/>
<path d="M349.4,863 Q349.4,862 351,862 L377,862 Q379,862 379,864 L379,866.5 Q379,868.7 377,868.7 L351,868.7 Q349.4,868.7 349.4,866.5 Z" fill="none" stroke="#000" stroke-width="1"/>
<ellipse cx="363.7" cy="888.5" rx="8.6" ry="12.4" fill="none" stroke="#000" stroke-width="1.1"/>
<path d="M352,868.7 Q356,875 356,878" fill="none" stroke="#000" stroke-width="1"/>
<path d="M376,868.7 Q372,875 372,878" fill="none" stroke="#000" stroke-width="1"/>
<ellipse cx="409.7" cy="873.5" rx="18.2" ry="14.4" fill="none" stroke="#000" stroke-width="1.1"/>
<ellipse cx="409.7" cy="873.5" rx="10.5" ry="8.6" fill="none" stroke="#000" stroke-width="1.1"/>
<line x1="394" y1="860.5" x2="425" y2="860.5" stroke="#000" stroke-width="1" shape-rendering="crispEdges"/>
<text x="359.9" y="929.0" font-size="23.55" font-weight="700" textLength="38.3" lengthAdjust="spacingAndGlyphs" stroke="#000" stroke-width="0.75">PWD</text>
<rect x="434" y="857" width="5" height="42" fill="#000" shape-rendering="crispEdges"/>
<path d="M434,899.4 Q418,900 407.8,910.8" fill="none" stroke="#000" stroke-width="1"/>
<line x1="407.8" y1="910.8" x2="435.5" y2="938.6" stroke="#000" stroke-width="1"/>
<line x1="409.2" y1="909.4" x2="436.9" y2="937.2" stroke="#000" stroke-width="1"/>
<rect x="434" y="938" width="6" height="10" fill="#000" shape-rendering="crispEdges"/>
<line x1="439" y1="873.5" x2="494" y2="873.5" stroke="#000" stroke-width="1" shape-rendering="crispEdges"/>
<text x="455.6" y="868.7" font-size="11.19" font-weight="700" textLength="22.4" lengthAdjust="spacingAndGlyphs" stroke="#000" stroke-width="0.56">LINEN</text>
<rect x="439" y="877" width="10" height="5" fill="#000" shape-rendering="crispEdges"/>
<rect x="482" y="877" width="12" height="5" fill="#000" shape-rendering="crispEdges"/>
<line x1="449.0" y1="880.2" x2="472.9" y2="905.1" stroke="#000" stroke-width="1"/>
<line x1="450.4" y1="878.8" x2="474.3" y2="903.7" stroke="#000" stroke-width="1"/>
<path d="M472.9,905.1 Q480,895 481.5,882.5" fill="none" stroke="#000" stroke-width="1"/>
<rect x="492" y="851" width="7" height="37" fill="#000" shape-rendering="crispEdges"/>
<line x1="493.5" y1="888" x2="493.5" y2="937" stroke="#000" stroke-width="1" stroke-dasharray="5,3" shape-rendering="crispEdges"/>
<line x1="497.5" y1="888" x2="497.5" y2="937" stroke="#000" stroke-width="1" stroke-dasharray="5,3" shape-rendering="crispEdges"/>
<rect x="491" y="937" width="8" height="11" fill="#000" shape-rendering="crispEdges"/>
<rect x="485" y="942" width="14" height="6" fill="#000" shape-rendering="crispEdges"/>
<path d="M444.1,947.6 A39.8,39.8 0 0 0 483.4,987.4" fill="none" stroke="#000" stroke-width="1"/>
<line x1="483.5" y1="948" x2="483.5" y2="987" stroke="#000" stroke-width="1" shape-rendering="crispEdges"/>
<line x1="486.5" y1="948" x2="486.5" y2="987" stroke="#000" stroke-width="1" shape-rendering="crispEdges"/>
<rect x="494" y="948" width="5" height="186" fill="#000" shape-rendering="crispEdges"/>
<rect x="499" y="970" width="6" height="8" fill="#000" shape-rendering="crispEdges"/>
<line x1="505" y1="971.0" x2="592" y2="971.0" stroke="#000" stroke-width="2" stroke-dasharray="7,4.5" shape-rendering="crispEdges"/>
<line x1="505" y1="978.0" x2="592" y2="978.0" stroke="#000" stroke-width="2" stroke-dasharray="7,4.5" shape-rendering="crispEdges"/>
<rect x="209" y="959" width="6" height="48" fill="#fff" shape-rendering="crispEdges"/>
<line x1="209.5" y1="959" x2="209.5" y2="1007" stroke="#000" stroke-width="1" shape-rendering="crispEdges"/>
<line x1="213.5" y1="959" x2="213.5" y2="1007" stroke="#000" stroke-width="1" shape-rendering="crispEdges"/>
<line x1="211.5" y1="959" x2="211.5" y2="1007" stroke="#000" stroke-width="1" shape-rendering="crispEdges"/>
<line x1="209" y1="958.5" x2="215" y2="958.5" stroke="#000" stroke-width="1" shape-rendering="crispEdges"/>
<line x1="209" y1="1005.5" x2="215" y2="1005.5" stroke="#000" stroke-width="1" shape-rendering="crispEdges"/>
<text x="258.4" y="1036.3" font-size="23.69" font-weight="700" textLength="104.4" lengthAdjust="spacingAndGlyphs" stroke="#000" stroke-width="0.75">BEDROOM 5</text>
<text x="271.2" y="1059.2" font-size="20.78" font-weight="400" textLength="79.1" lengthAdjust="spacingAndGlyphs" stroke="#000" stroke-width="0.80">11'8"x11'0"</text>
<rect x="406" y="1014" width="11" height="6" fill="#000" shape-rendering="crispEdges"/>
<rect x="458" y="1014" width="36" height="6" fill="#000" shape-rendering="crispEdges"/>
<rect x="406" y="1014" width="6" height="120" fill="#000" shape-rendering="crispEdges"/>
<path d="M457.5,1019.6 A40,40 0 0 1 417.3,1059.2" fill="none" stroke="#000" stroke-width="1"/>
<line x1="416.5" y1="1020" x2="416.5" y2="1059" stroke="#000" stroke-width="1" shape-rendering="crispEdges"/>
<line x1="418.5" y1="1020" x2="418.5" y2="1059" stroke="#000" stroke-width="1" shape-rendering="crispEdges"/>
<line x1="474.5" y1="1020" x2="474.5" y2="1109" stroke="#000" stroke-width="1" shape-rendering="crispEdges"/>
<line x1="412" y1="1109.5" x2="475" y2="1109.5" stroke="#000" stroke-width="1" shape-rendering="crispEdges"/>
<line x1="478.0" y1="1020" x2="478.0" y2="1096" stroke="#000" stroke-width="2" stroke-dasharray="5,3" shape-rendering="crispEdges"/>
<line x1="478" y1="1096.0" x2="494" y2="1096.0" stroke="#000" stroke-width="2" stroke-dasharray="5,3" shape-rendering="crispEdges"/>
<line x1="412" y1="1112.5" x2="494" y2="1112.5" stroke="#000" stroke-width="1" stroke-dasharray="5,3" shape-rendering="crispEdges"/>
<text x="425.6" y="1088.0" font-size="20.93" font-weight="700" textLength="39.6" lengthAdjust="spacingAndGlyphs" stroke="#000" stroke-width="0.75">W.I.C.</text>
<rect x="209" y="1128" width="53" height="6" fill="#000" shape-rendering="crispEdges"/>
<rect x="299" y="1128" width="200" height="6" fill="#000" shape-rendering="crispEdges"/>
<rect x="209" y="1128" width="9" height="159" fill="#000" shape-rendering="crispEdges"/>
<rect x="210" y="1198" width="7" height="30" fill="#fff" shape-rendering="crispEdges"/>
<line x1="209.5" y1="1198" x2="209.5" y2="1228" stroke="#000" stroke-width="1" shape-rendering="crispEdges"/>
<line x1="216.5" y1="1198" x2="216.5" y2="1228" stroke="#000" stroke-width="1" shape-rendering="crispEdges"/>
<line x1="213.5" y1="1198" x2="213.5" y2="1228" stroke="#000" stroke-width="1" shape-rendering="crispEdges"/>
<line x1="210" y1="1197.5" x2="217" y2="1197.5" stroke="#000" stroke-width="1" shape-rendering="crispEdges"/>
<line x1="210" y1="1227.5" x2="217" y2="1227.5" stroke="#000" stroke-width="1" shape-rendering="crispEdges"/>
<rect x="209" y="1235" width="15" height="52" fill="#000" shape-rendering="crispEdges"/>
<rect x="209" y="1282" width="96" height="5" fill="#000" shape-rendering="crispEdges"/>
<rect x="242" y="1282" width="32" height="5" fill="#fff" shape-rendering="crispEdges"/>
<line x1="242" y1="1282.5" x2="274" y2="1282.5" stroke="#000" stroke-width="1" shape-rendering="crispEdges"/>
<line x1="242" y1="1286.5" x2="274" y2="1286.5" stroke="#000" stroke-width="1" shape-rendering="crispEdges"/>
<line x1="242" y1="1284.5" x2="274" y2="1284.5" stroke="#000" stroke-width="1" shape-rendering="crispEdges"/>
<line x1="242.5" y1="1282" x2="242.5" y2="1287" stroke="#000" stroke-width="1" shape-rendering="crispEdges"/>
<line x1="273.5" y1="1282" x2="273.5" y2="1287" stroke="#000" stroke-width="1" shape-rendering="crispEdges"/>
<rect x="305" y="1134" width="6" height="185" fill="#000" shape-rendering="crispEdges"/>
<rect x="288.5" y="1287.5" width="17.0" height="32.0" fill="none" stroke="#000" stroke-width="1" shape-rendering="crispEdges"/>
<path d="M261.7,1134 A37.5,37.5 0 0 0 297.7,1171.5" fill="none" stroke="#000" stroke-width="1"/>
<line x1="297.5" y1="1134" x2="297.5" y2="1172" stroke="#000" stroke-width="1" shape-rendering="crispEdges"/>
<line x1="299.5" y1="1134" x2="299.5" y2="1172" stroke="#000" stroke-width="1" shape-rendering="crispEdges"/>
<rect x="217.5" y="1134.5" width="30.0" height="56.0" fill="none" stroke="#000" stroke-width="1" shape-rendering="crispEdges"/>
<ellipse cx="234.8" cy="1162.0" rx="9.6" ry="12.4" fill="none" stroke="#000" stroke-width="1.1"/>
<rect x="220.7" y="1199.0" width="8.0" height="28.4" fill="none" stroke="#000" stroke-width="1" rx="1.5"/>
<path d="M228.7,1200 L241,1204.5 M228.7,1226.5 L241,1221.8" fill="none" stroke="#000" stroke-width="1"/>
<ellipse cx="245.5" cy="1213.1" rx="12.3" ry="8.6" fill="none" stroke="#000" stroke-width="1.1"/>
<line x1="224" y1="1239.5" x2="305" y2="1239.5" stroke="#000" stroke-width="1" shape-rendering="crispEdges"/>
<path d="M232,1245 L293,1245 Q301,1247 301.5,1255 L301.5,1270 Q301,1276 293,1276.5 L232,1277.5 Q228.3,1277 228.3,1272 L228.3,1249 Q228.3,1245 232,1245 Z" fill="none" stroke="#000" stroke-width="1"/>
<text x="254.0" y="1198.7" font-size="25.00" font-weight="700" textLength="44.0" lengthAdjust="spacingAndGlyphs" stroke="#000" stroke-width="0.75">BATH</text>
<text x="269.9" y="1222.6" font-size="25.00" font-weight="700" textLength="12.1" lengthAdjust="spacingAndGlyphs" stroke="#000" stroke-width="0.75">4</text>
<rect x="491" y="1235" width="8" height="84" fill="#000" shape-rendering="crispEdges"/>
<line x1="492.5" y1="1139" x2="492.5" y2="1235" stroke="#000" stroke-width="1" stroke-dasharray="5,3" shape-rendering="crispEdges"/>
<line x1="498.5" y1="1139" x2="498.5" y2="1235" stroke="#000" stroke-width="1" stroke-dasharray="5,3" shape-rendering="crispEdges"/>
<rect x="491.5" y="1139.5" width="6.0" height="7.0" fill="none" stroke="#000" stroke-width="1" shape-rendering="crispEdges"/>
<rect x="305" y="1314" width="194" height="5" fill="#000" shape-rendering="crispEdges"/>
<rect x="378" y="1314" width="48" height="5" fill="#fff" shape-rendering="crispEdges"/>
<line x1="378" y1="1314.5" x2="426" y2="1314.5" stroke="#000" stroke-width="1" shape-rendering="crispEdges"/>
<line x1="378" y1="1318.5" x2="426" y2="1318.5" stroke="#000" stroke-width="1" shape-rendering="crispEdges"/>
<line x1="378" y1="1316.5" x2="426" y2="1316.5" stroke="#000" stroke-width="1" shape-rendering="crispEdges"/>
<line x1="378.5" y1="1314" x2="378.5" y2="1319" stroke="#000" stroke-width="1" shape-rendering="crispEdges"/>
<line x1="425.5" y1="1314" x2="425.5" y2="1319" stroke="#000" stroke-width="1" shape-rendering="crispEdges"/>
<text x="344.0" y="1222.6" font-size="23.55" font-weight="700" textLength="98.2" lengthAdjust="spacingAndGlyphs" stroke="#000" stroke-width="0.75">FLEX ROOM</text>
<text x="354.7" y="1245.6" font-size="20.78" font-weight="400" textLength="78.5" lengthAdjust="spacingAndGlyphs" stroke="#000" stroke-width="0.80">11'0"x11'0"</text>
<text x="422.0" y="1147.0" font-size="9.74" font-weight="700" textLength="17.0" lengthAdjust="spacingAndGlyphs" stroke="#000" stroke-width="0.49">OPT.</text>
<text x="414.0" y="1157.5" font-size="9.74" font-weight="700" textLength="30.0" lengthAdjust="spacingAndGlyphs" stroke="#000" stroke-width="0.49">DOUBLE</text>
<text x="416.0" y="1167.7" font-size="10.61" font-weight="700" textLength="26.0" lengthAdjust="spacingAndGlyphs" stroke="#000" stroke-width="0.53">DOORS</text>
<line x1="453" y1="1146.0" x2="493" y2="1146.0" stroke="#000" stroke-width="2" stroke-dasharray="5,3" shape-rendering="crispEdges"/>
<line x1="453" y1="1226.0" x2="493" y2="1226.0" stroke="#000" stroke-width="2" stroke-dasharray="5,3" shape-rendering="crispEdges"/>
<path d="M452.7,1146 Q455,1178 482,1186.3" fill="none" stroke="#000" stroke-width="1.5" stroke-dasharray="6,4"/>
<path d="M452.7,1227.4 Q455,1193 491,1187.2" fill="none" stroke="#000" stroke-width="1.5" stroke-dasharray="6,4"/>
<rect x="632" y="851" width="145" height="6" fill="#000" shape-rendering="crispEdges"/>
<rect x="603.5" y="851.5" width="29.0" height="4.0" fill="none" stroke="#000" stroke-width="1" shape-rendering="crispEdges"/>
<rect x="632" y="844" width="7" height="13" fill="#000" shape-rendering="crispEdges"/>
<line x1="605.5" y1="857" x2="605.5" y2="911" stroke="#000" stroke-width="1" shape-rendering="crispEdges"/>
<line x1="618.5" y1="857" x2="618.5" y2="911" stroke="#000" stroke-width="1" shape-rendering="crispEdges"/>
<line x1="632.5" y1="857" x2="632.5" y2="911" stroke="#000" stroke-width="1" shape-rendering="crispEdges"/>
<line x1="646.5" y1="857" x2="646.5" y2="911" stroke="#000" stroke-width="1" shape-rendering="crispEdges"/>
<line x1="660.5" y1="857" x2="660.5" y2="911" stroke="#000" stroke-width="1" shape-rendering="crispEdges"/>
<line x1="673.5" y1="857" x2="673.5" y2="911" stroke="#000" stroke-width="1" shape-rendering="crispEdges"/>
<line x1="687.5" y1="857" x2="687.5" y2="911" stroke="#000" stroke-width="1" shape-rendering="crispEdges"/>
<line x1="701.5" y1="857" x2="701.5" y2="911" stroke="#000" stroke-width="1" shape-rendering="crispEdges"/>
<line x1="715.5" y1="857" x2="715.5" y2="911" stroke="#000" stroke-width="1" shape-rendering="crispEdges"/>
<text x="583.4" y="838.3" font-size="9.45" font-weight="700" textLength="38.9" lengthAdjust="spacingAndGlyphs" stroke="#000" stroke-width="0.47">KNEEWALL</text>
<text x="575.7" y="849.4" font-size="9.45" font-weight="700" textLength="54.1" lengthAdjust="spacingAndGlyphs" stroke="#000" stroke-width="0.47">(OPT. RAILING)</text>
<text x="590.0" y="890.7" font-size="11.19" font-weight="700" textLength="9.7" lengthAdjust="spacingAndGlyphs" stroke="#000" stroke-width="0.56">UP</text>
<ellipse cx="605.4" cy="886.0" rx="1.6" ry="1.6" fill="none" stroke="#000" stroke-width="1.5"/>
<line x1="605" y1="886.5" x2="660" y2="886.5" stroke="#000" stroke-width="1" shape-rendering="crispEdges"/>
<path d="M656,880 L660,886 L656,892" fill="none" stroke="#000" stroke-width="1.5"/>
<rect x="597" y="911" width="120" height="6" fill="#000" shape-rendering="crispEdges"/>
<rect x="597" y="917" width="5" height="6" fill="#000" shape-rendering="crispEdges"/>
<line x1="597.2" y1="922.7" x2="568.5" y2="951.0" stroke="#000" stroke-width="1"/>
<line x1="598.6" y1="924.1" x2="569.9" y2="952.4" stroke="#000" stroke-width="1"/>
<path d="M568.5,951 Q578,962 597.2,964" fill="none" stroke="#000" stroke-width="1"/>
<rect x="597" y="964" width="5" height="6" fill="#000" shape-rendering="crispEdges"/>
<rect x="592" y="970" width="185" height="6" fill="#000" shape-rendering="crispEdges"/>
<line x1="701.5" y1="917" x2="701.5" y2="970" stroke="#000" stroke-width="1" shape-rendering="crispEdges"/>
<line x1="715.5" y1="917" x2="715.5" y2="970" stroke="#000" stroke-width="1" shape-rendering="crispEdges"/>
<text x="635.1" y="948.2" font-size="12.50" font-weight="700" textLength="33.5" lengthAdjust="spacingAndGlyphs" stroke="#000" stroke-width="0.63">STORAGE</text>
<rect x="597" y="976" width="7" height="7" fill="#000" shape-rendering="crispEdges"/>
<rect x="597" y="1032" width="7" height="10" fill="#000" shape-rendering="crispEdges"/>
<line x1="598.5" y1="983" x2="598.5" y2="1032" stroke="#000" stroke-width="1" stroke-dasharray="5,3" shape-rendering="crispEdges"/>
<line x1="603.5" y1="983" x2="603.5" y2="1032" stroke="#000" stroke-width="1" stroke-dasharray="5,3" shape-rendering="crispEdges"/>
<line x1="662.5" y1="982" x2="662.5" y2="1032" stroke="#000" stroke-width="1" stroke-dasharray="5,3" shape-rendering="crispEdges"/>
<line x1="604" y1="1041.5" x2="655" y2="1041.5" stroke="#000" stroke-width="1" shape-rendering="crispEdges"/>
<path d="M612,1041 Q612,1020 624.6,1007.5" fill="none" stroke="#000" stroke-width="1"/>
<line x1="624.6" y1="1007.5" x2="655.2" y2="1040.0" stroke="#000" stroke-width="1"/>
<line x1="626.0" y1="1006.2" x2="656.6" y2="1038.7" stroke="#000" stroke-width="1"/>
<text x="612.1" y="992.2" font-size="13.95" font-weight="700" textLength="43.1" lengthAdjust="spacingAndGlyphs" stroke="#000" stroke-width="0.70">OWNER'S</text>
<text x="618.8" y="1005.6" font-size="13.95" font-weight="700" textLength="30.7" lengthAdjust="spacingAndGlyphs" stroke="#000" stroke-width="0.70">ENTRY</text>
<rect x="662" y="976" width="37" height="5" fill="#000" shape-rendering="crispEdges"/>
<rect x="694" y="976" width="5" height="66" fill="#000" shape-rendering="crispEdges"/>
<rect x="655" y="1032" width="44" height="10" fill="#000" shape-rendering="crispEdges"/>
<line x1="665.5" y1="981" x2="665.5" y2="1032" stroke="#000" stroke-width="1" shape-rendering="crispEdges"/>
<text transform="translate(684.9,1031.5) rotate(-90)" x="0" y="0" font-size="11.19" font-weight="700" textLength="49.8" lengthAdjust="spacingAndGlyphs" stroke="#000" stroke-width="0.56">STOP &amp; DROP</text>
<rect x="597" y="1042" width="5" height="343" fill="#000" shape-rendering="crispEdges"/>
<rect x="940" y="1049" width="6" height="43" fill="#fff" shape-rendering="crispEdges"/>
<rect x="897.5" y="1048.5" width="44.0" height="2.0" fill="none" stroke="#000" stroke-width="1" shape-rendering="crispEdges"/>
<path d="M897.6,1049.4 A43.5,42.2 0 0 0 941.5,1091.6" fill="none" stroke="#000" stroke-width="1"/>
<rect x="945.5" y="1041.5" width="58.0" height="57.0" fill="none" stroke="#000" stroke-width="1" shape-rendering="crispEdges"/>
<line x1="944" y1="1050.5" x2="947" y2="1050.5" stroke="#000" stroke-width="1" shape-rendering="crispEdges"/>
<rect x="788.0" y="798.0" width="32.0" height="24.0" fill="none" stroke="#000" stroke-width="2" stroke-dasharray="4.5,3" shape-rendering="crispEdges"/>
<rect x="792.5" y="801.5" width="24.0" height="17.0" fill="none" stroke="#000" stroke-width="1" shape-rendering="crispEdges"/>
<text x="785.0" y="834.6" font-size="10.47" font-weight="700" textLength="34.5" lengthAdjust="spacingAndGlyphs" stroke="#000" stroke-width="0.52">OPT. TUB</text>
<path d="M849.3,794 L849.3,801.9 L879,801.9 L879,794" fill="none" stroke="#000" stroke-width="1"/>
<line x1="851" y1="799.5" x2="877" y2="799.5" stroke="#000" stroke-width="1" shape-rendering="crispEdges"/>
<text x="845.2" y="813.5" font-size="10.61" font-weight="700" textLength="34.5" lengthAdjust="spacingAndGlyphs" stroke="#000" stroke-width="0.53">OPT. SWL</text>
<rect x="946.5" y="799.5" width="13.0" height="25.0" fill="none" stroke="#000" stroke-width="1" shape-rendering="crispEdges"/>
<text x="963.3" y="812.2" font-size="12.21" font-weight="700" textLength="37.3" lengthAdjust="spacingAndGlyphs" stroke="#000" stroke-width="0.61">TANKLESS</text>
<text x="976.5" y="822.0" font-size="10.61" font-weight="700" textLength="12.1" lengthAdjust="spacingAndGlyphs" stroke="#000" stroke-width="0.53">WH</text>
<text x="819.2" y="931.5" font-size="21.37" font-weight="400" textLength="80.1" lengthAdjust="spacingAndGlyphs" stroke="#000" stroke-width="0.80">10'0"x15'2"</text>
<text x="746.0" y="1194.8" font-size="24.85" font-weight="700" textLength="52.0" lengthAdjust="spacingAndGlyphs" stroke="#000" stroke-width="0.75">3-CAR</text>
<text x="697.4" y="1222.3" font-size="25.15" font-weight="700" textLength="149.7" lengthAdjust="spacingAndGlyphs" stroke="#000" stroke-width="0.75">TANDEM GARAGE</text>
<text x="731.7" y="1245.6" font-size="22.24" font-weight="400" textLength="80.0" lengthAdjust="spacingAndGlyphs" stroke="#000" stroke-width="0.80">20'8"x20'6"</text>
<rect x="597" y="1377" width="44" height="8" fill="#000" shape-rendering="crispEdges"/>
<rect x="902" y="1377" width="44" height="8" fill="#000" shape-rendering="crispEdges"/>
<rect x="633.5" y="1372.5" width="275.0" height="5.0" fill="none" stroke="#000" stroke-width="1" shape-rendering="crispEdges"/>
<line x1="636" y1="1375.5" x2="906" y2="1375.5" stroke="#000" stroke-width="1" shape-rendering="crispEdges"/>
<line x1="641" y1="1384.0" x2="902" y2="1384.0" stroke="#000" stroke-width="2" stroke-dasharray="7,4.5" shape-rendering="crispEdges"/>
<line x1="492.5" y1="1138" x2="492.5" y2="1235" stroke="#000" stroke-width="1" stroke-dasharray="5,3" shape-rendering="crispEdges"/>
<text x="520.6" y="1118.7" font-size="25.00" font-weight="700" textLength="55.6" lengthAdjust="spacingAndGlyphs" stroke="#000" stroke-width="0.75">FOYER</text>
<rect x="491" y="1241" width="32" height="6" fill="#000" shape-rendering="crispEdges"/>
<rect x="573" y="1241" width="28" height="6" fill="#000" shape-rendering="crispEdges"/>
<line x1="570.5" y1="1192" x2="570.5" y2="1247" stroke="#000" stroke-width="1" shape-rendering="crispEdges"/>
<line x1="572.5" y1="1192" x2="572.5" y2="1247" stroke="#000" stroke-width="1" shape-rendering="crispEdges"/>
<path d="M570.2,1192.3 A47,54.7 0 0 0 523.4,1247" fill="none" stroke="#000" stroke-width="1"/>
<rect x="522.5" y="1247.5" width="51.0" height="1.0" fill="none" stroke="#000" stroke-width="1" shape-rendering="crispEdges"/>
<rect x="491" y="1241" width="8" height="79" fill="#000" shape-rendering="crispEdges"/>
<line x1="482.5" y1="1320" x2="482.5" y2="1434" stroke="#000" stroke-width="1" shape-rendering="crispEdges"/>
<line x1="499.0" y1="1320" x2="499.0" y2="1434" stroke="#000" stroke-width="2" stroke-dasharray="7,4.5" shape-rendering="crispEdges"/>
<line x1="597.0" y1="1385" x2="597.0" y2="1434" stroke="#000" stroke-width="2" stroke-dasharray="7,4.5" shape-rendering="crispEdges"/>
<line x1="613.5" y1="1385" x2="613.5" y2="1434" stroke="#000" stroke-width="1" shape-rendering="crispEdges"/>
<rect x="482" y="1434" width="17" height="33" fill="#000" shape-rendering="crispEdges"/>
<rect x="499" y="1450" width="17" height="17" fill="#000" shape-rendering="crispEdges"/>
<rect x="597" y="1434" width="16" height="33" fill="#000" shape-rendering="crispEdges"/>
<rect x="580" y="1450" width="17" height="17" fill="#000" shape-rendering="crispEdges"/>
<line x1="516" y1="1466.5" x2="580" y2="1466.5" stroke="#000" stroke-width="1" shape-rendering="crispEdges"/>
<line x1="499" y1="1450.5" x2="597" y2="1450.5" stroke="#000" stroke-width="1" stroke-dasharray="7,4.5" shape-rendering="crispEdges"/>
<text x="518.2" y="1365.6" font-size="25.00" font-weight="700" textLength="59.1" lengthAdjust="spacingAndGlyphs" stroke="#000" stroke-width="0.75">PORCH</text>
</g>
</svg>
</body></html>
